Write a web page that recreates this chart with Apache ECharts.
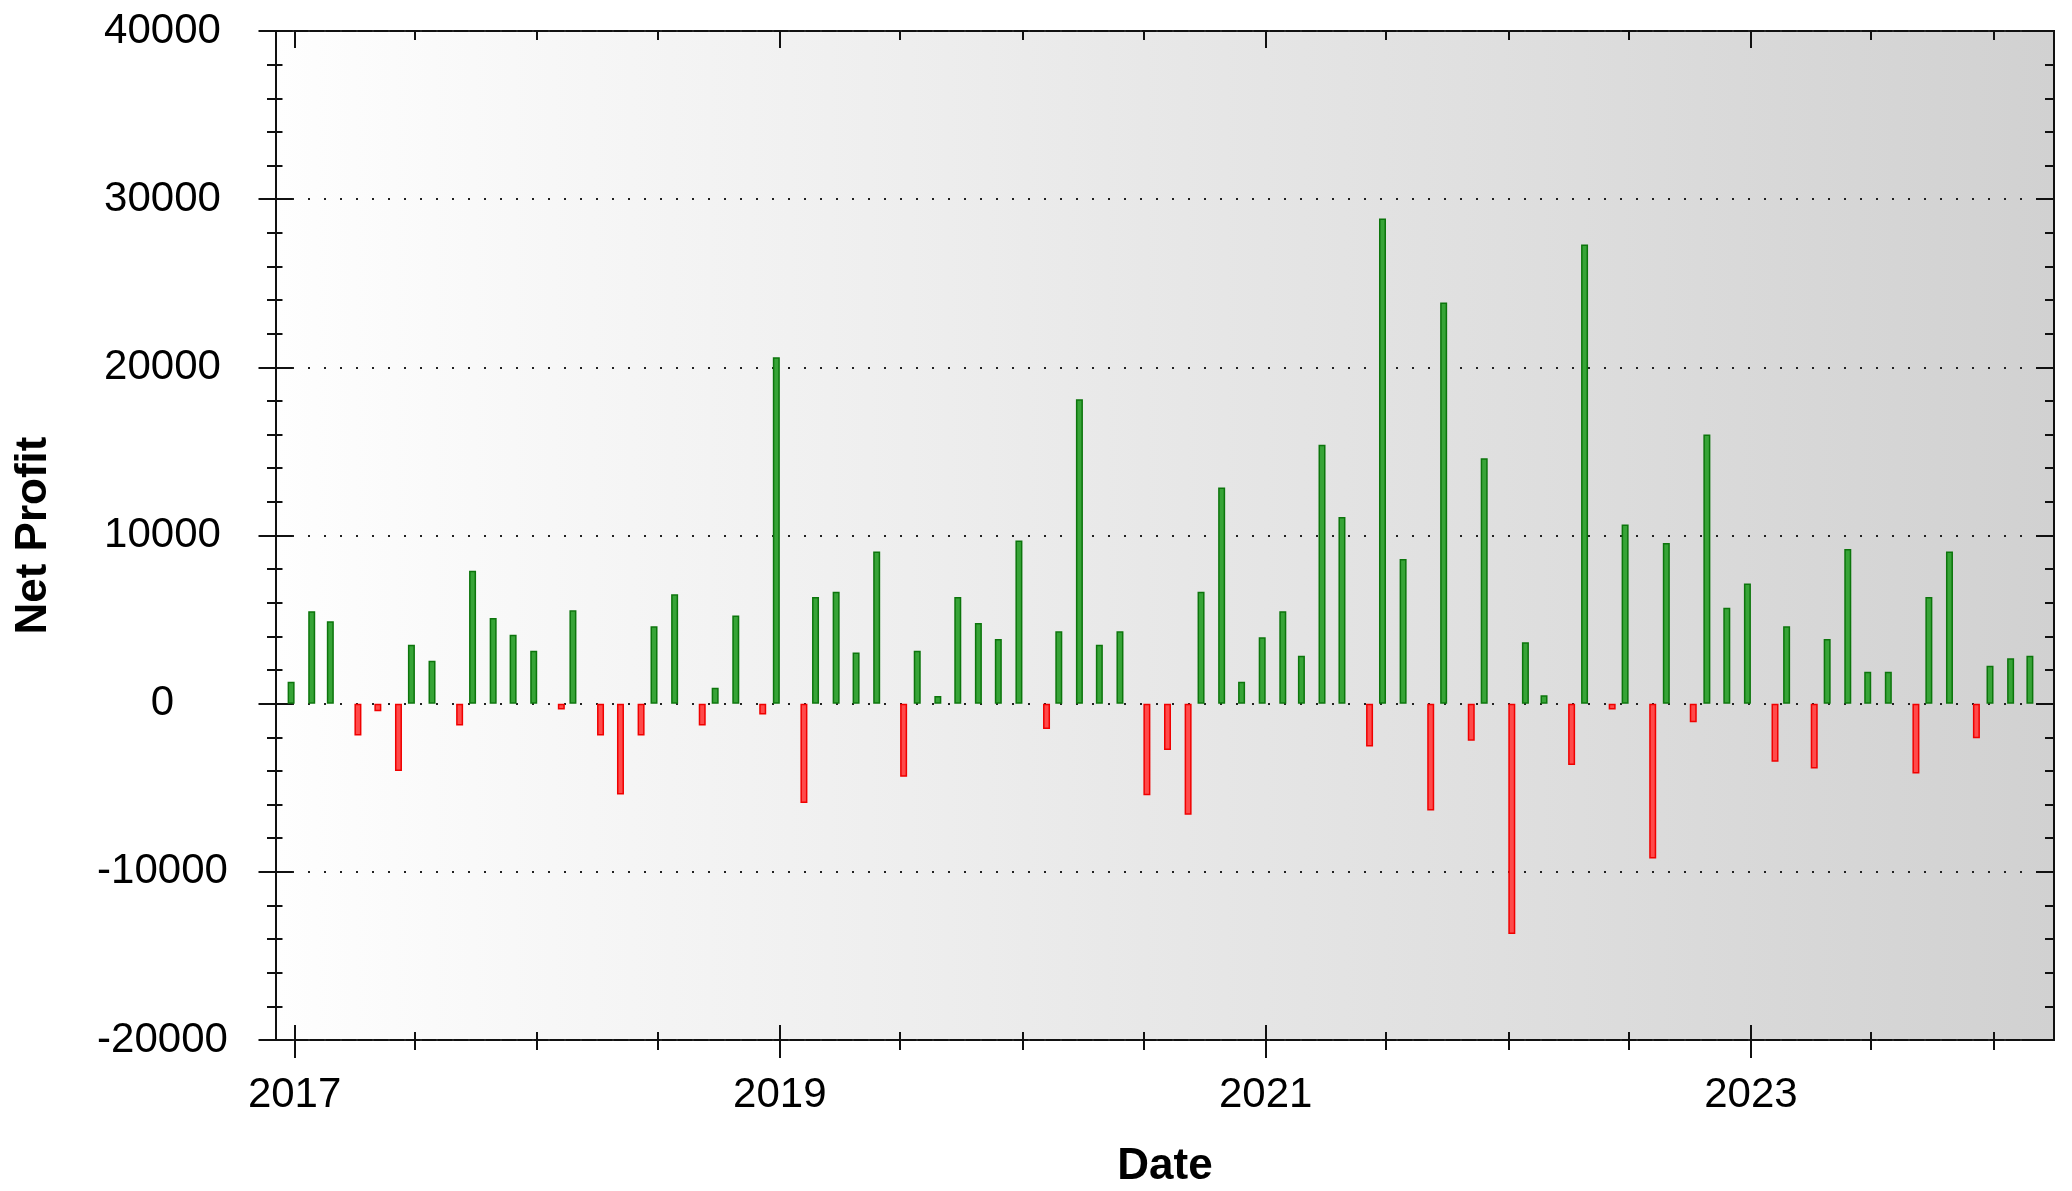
<!DOCTYPE html>
<html>
<head>
<meta charset="utf-8">
<title>Net Profit</title>
<script src="https://cdn.jsdelivr.net/npm/echarts@6.0.0/dist/echarts.min.js"></script>
<style>
  html, body { margin: 0; padding: 0; background: #fff; }
  #main { width: 2072px; height: 1191px; }
</style>
</head>
<body>
<div id="main"></div>
<script>
// months (one bar per month)
const months = [
  '2017-01', '2017-02', '2017-03', '2017-04', '2017-05', '2017-06', '2017-07', '2017-08', '2017-09', '2017-10', '2017-11', '2017-12',
  '2018-01', '2018-02', '2018-03', '2018-04', '2018-05', '2018-06', '2018-07', '2018-08', '2018-09', '2018-10', '2018-11', '2018-12',
  '2019-01', '2019-02', '2019-03', '2019-04', '2019-05', '2019-06', '2019-07', '2019-08', '2019-09', '2019-10', '2019-11', '2019-12',
  '2020-01', '2020-02', '2020-03', '2020-04', '2020-05', '2020-06', '2020-07', '2020-08', '2020-09', '2020-10', '2020-11', '2020-12',
  '2021-01', '2021-02', '2021-03', '2021-04', '2021-05', '2021-06', '2021-07', '2021-08', '2021-09', '2021-10', '2021-11', '2021-12',
  '2022-01', '2022-02', '2022-03', '2022-04', '2022-05', '2022-06', '2022-07', '2022-08', '2022-09', '2022-10', '2022-11', '2022-12',
  '2023-01', '2023-02', '2023-03', '2023-04', '2023-05', '2023-06', '2023-07', '2023-08', '2023-09', '2023-10', '2023-11', '2023-12',
  '2024-01', '2024-02', '2024-03'
];
// net profit per month
const netProfit = [
  1300, 5500, 4900, -1900, -450, -4000, 3500, 2550, -1300, 7900, 5100, 4100,
  3150, -350, 5550, -1900, -5400, -1900, 4600, 6500, -1300, 950, 5250, -650,
  20600, -5900, 6350, 6650, 3050, 9050, -4350, 3150, 450, 6350, 4800, 3850,
  9700, -1500, 4300, 18100, 3500, 4300, -5450, -2750, -6600, 6650, 12850, 1300,
  3950, 5500, 2850, 15400, 11100, -2550, 28850, 8600, -6350, 23850, -2200, 14600,
  -13700, 3650, 500, -3650, 27300, -350, 10650, -9200, 9550, -1100, 16000, 5700,
  7150, -3450, 4600, -3850, 3850, 9200, 1900, 1900, -4150, 6350, 9050, -2050,
  2250, 2700, 2850
];
// labelled (long) ticks and half-year (short) ticks
const yearTicks = ['2017-01', '2019-01', '2021-01', '2023-01'];
const halfYearTicks = [
  '2017-01', '2017-07', '2018-01', '2018-07', '2019-01', '2019-07', '2020-01', '2020-07',
  '2021-01', '2021-07', '2022-01', '2022-07', '2023-01', '2023-07', '2024-01'
];

// dates as plain millisecond numbers on a value axis
function toTime(s) {
  const p = s.split('-');
  return Date.UTC(+p[0], +p[1] - 1, 1);
}

const xMin = Date.UTC(2016, 11, 4);
const xMax = Date.UTC(2024, 3, 1);
const yearTickTimes = yearTicks.map(toTime);
const halfTickTimes = halfYearTicks.map(toTime);

const gainData = months.map((m, i) => [toTime(m), netProfit[i] >= 0 ? netProfit[i] : '-']);
const lossData = months.map((m, i) => [toTime(m), netProfit[i] < 0 ? netProfit[i] : '-']);

const FONT = "'Liberation Sans', Arial, sans-serif";
const INK = '#111';
const gridBox = { left: 276, top: 31, right: 18, bottom: 151, outerBoundsMode: 'none' };

// helper for tick-only x axes
function xTickAxis(gridIndex, position, values, len, inside, offset) {
  return {
    type: 'value', gridIndex: gridIndex, position: position, min: xMin, max: xMax, offset: offset || 0,
    axisLine: { show: false, onZero: false },
    axisTick: { show: true, inside: inside, length: len, customValues: values, lineStyle: { color: INK, width: 2 } },
    axisLabel: { show: false },
    splitLine: { show: false }
  };
}

let myChart = echarts.init(document.getElementById('main'));
let option = {
  animation: false,
  backgroundColor: '#fff',
  grid: [
    Object.assign({
      show: true,
      borderColor: INK,
      borderWidth: 2,
      backgroundColor: {
        type: 'linear', x: 0, y: 0, x2: 1, y2: 0,
        colorStops: [{ offset: 0, color: '#fefefe' }, { offset: 1, color: '#d1d1d1' }]
      }
    }, gridBox),
    Object.assign({ show: false }, gridBox)
  ],
  xAxis: [
    // bottom: long year ticks crossing the axis + labels
    {
      type: 'value', gridIndex: 0, position: 'bottom', min: xMin, max: xMax, offset: -15,
      name: 'Date', nameLocation: 'middle', nameGap: 120,
      nameTextStyle: { fontFamily: FONT, fontSize: 44, fontWeight: 'bold', color: '#000' },
      axisLine: { show: false, onZero: false },
      axisTick: { show: true, length: 33, customValues: yearTickTimes, lineStyle: { color: INK, width: 2 } },
      axisLabel: {
        show: true, customValues: yearTickTimes, margin: 49,
        fontFamily: FONT, fontSize: 42, color: '#000',
        formatter: (v) => String(new Date(v).getUTCFullYear())
      },
      splitLine: { show: false }
    },
    xTickAxis(0, 'top', yearTickTimes, 17, true),
    xTickAxis(1, 'bottom', halfTickTimes, 18, false, -8),
    xTickAxis(1, 'top', halfTickTimes, 9, true)
  ],
  yAxis: [
    // left: labels, major ticks crossing the axis, dotted grid
    {
      type: 'value', gridIndex: 0, position: 'left', min: -20000, max: 40000, interval: 10000, offset: -16.5,
      name: 'Net Profit', nameLocation: 'middle', nameGap: 237,
      nameTextStyle: { fontFamily: FONT, fontSize: 44, fontWeight: 'bold', color: '#000' },
      axisLine: { show: false, onZero: false },
      axisTick: { show: true, length: 34, lineStyle: { color: INK, width: 2 } },
      axisLabel: {
        show: true, margin: 130, align: 'center', padding: [0, 0, 12, 0],
        fontFamily: FONT, fontSize: 42, color: '#000',
        formatter: (v) => String(v)
      },
      splitLine: { show: true, lineStyle: { color: '#222', width: 2, type: [2, 14] } }
    },
    // right: inside ticks
    {
      type: 'value', gridIndex: 0, position: 'right', min: -20000, max: 40000, interval: 10000,
      axisLine: { show: false, onZero: false },
      axisTick: { show: true, inside: true, length: 18, lineStyle: { color: INK, width: 2 } },
      minorTick: { show: true, splitNumber: 5, length: 9, lineStyle: { color: INK, width: 2 } },
      axisLabel: { show: false },
      splitLine: { show: false }
    },
    // left minor ticks (every 2000) crossing the axis
    {
      type: 'value', gridIndex: 1, position: 'left', min: -20000, max: 40000, interval: 2000, offset: -6.5,
      axisLine: { show: false, onZero: false },
      axisTick: { show: true, length: 15.5, lineStyle: { color: INK, width: 2 } },
      axisLabel: { show: false },
      splitLine: { show: false }
    }
  ],
  series: [
    {
      name: 'Profit', type: 'bar', xAxisIndex: 0, yAxisIndex: 0,
      barWidth: 7, barGap: '0%',
      itemStyle: { color: '#37a437', borderColor: '#0c750c', borderWidth: 1.5 },
      data: gainData
    },
    {
      name: 'Loss', type: 'bar', xAxisIndex: 0, yAxisIndex: 0,
      barWidth: 7, barGap: '0%',
      itemStyle: { color: '#ff4a4a', borderColor: '#f00000', borderWidth: 1.5 },
      data: lossData
    }
  ]
};
myChart.setOption(option);
</script>
</body>
</html>
